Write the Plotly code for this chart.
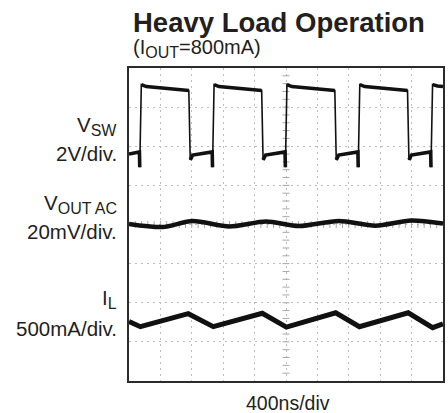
import numpy as np
import plotly.graph_objects as go

# ---------------- data ----------------
# time axis: 400 ns/div, 10 divisions
t_div_ns = 400
n_xdiv = 10
n_ydiv = 8

# V_SW (volts, 2 V/div, ground reference at 5.8 div)
vsw_t = [0, 133, 137, 157, 220, 762, 780, 812,
         1060, 1064, 1084, 1147, 1690, 1708, 1740,
         1988, 1992, 2012, 2075, 2622, 2640, 2672,
         2916, 2920, 2940, 3003, 3548, 3566, 3598,
         3843, 3847, 3867, 3930, 4000]
vsw_v = [0.0, 0.11, -0.67, 3.55, 3.45, 3.25, -0.30, -0.05,
         0.11, -0.67, 3.55, 3.45, 3.25, -0.30, -0.05,
         0.11, -0.67, 3.55, 3.45, 3.25, -0.30, -0.05,
         0.11, -0.67, 3.55, 3.45, 3.25, -0.30, -0.05,
         0.11, -0.67, 3.55, 3.48, 3.45]
vsw_scale = 2.0      # V/div
vsw_offset = 5.8     # div

# V_OUT AC (mV, 20 mV/div, centred at 4 div)
vout_t = [0, 430, 810, 1278, 1747, 2165, 2671, 3139, 3595, 4000]
vout_v = [0.3, -1.3, 1.8, -1.0, 1.5, -0.8, 1.8, -0.6, 2.0, 0.5]
vout_scale = 20.0
vout_offset = 4.0

# I_L (mA, 500 mA/div, zero at -0.06 div)
il_t = [0, 145, 755, 1074, 1698, 2005, 2633, 2935, 3557, 3868, 4000]
il_v = [790, 724, 890, 724, 896, 718, 902, 724, 902, 712, 760]
il_scale = 500.0
il_offset = -0.06

# ---------------- figure ----------------
W, H = 448, 413
# plot frame in window pixels: x 129..445, y 67.5..381.5
L, R, T, B = 129, 3, 68, 32
pw, ph = W - L - R, H - T - B

def px(x):
    return (x - L) / pw

def py(y):
    return (H - B - y) / ph

def to_div(vals, scale, offset):
    return [offset + v / scale for v in vals]

fig = go.Figure()

# centre cross minor tick marks (scope graticule)
cx = n_xdiv * t_div_ns / 2
fig.add_trace(go.Scatter(
    x=[cx] * (n_ydiv * 5 - 1), y=list(np.arange(1, n_ydiv * 5) * 0.2),
    mode="markers", marker=dict(symbol="line-ew", size=5, line=dict(width=1, color="#a8a8a8")),
    hoverinfo="skip", showlegend=False))
fig.add_trace(go.Scatter(
    x=list(np.arange(1, n_xdiv * 5) * t_div_ns / 5), y=[n_ydiv / 2] * (n_xdiv * 5 - 1),
    mode="markers", marker=dict(symbol="line-ns", size=5, line=dict(width=1, color="#a8a8a8")),
    hoverinfo="skip", showlegend=False))

trace_col = "#111111"

# V_SW: thin edges + thicker noisy plateaus
vsw_y = to_div(vsw_v, vsw_scale, vsw_offset)
fig.add_trace(go.Scatter(x=vsw_t, y=vsw_y, mode="lines",
                         line=dict(color=trace_col, width=1.6), showlegend=False, hoverinfo="skip"))
pl_x, pl_y = [], []
for i in range(len(vsw_t)):
    if i > 0 and abs(vsw_v[i] - vsw_v[i - 1]) > 1.0:
        pl_x.append(None)
        pl_y.append(None)
    pl_x.append(vsw_t[i])
    pl_y.append(vsw_y[i])
fig.add_trace(go.Scatter(x=pl_x, y=pl_y, mode="lines", connectgaps=False,
                         line=dict(color=trace_col, width=3.6), showlegend=False, hoverinfo="skip"))

# V_OUT AC
fig.add_trace(go.Scatter(x=vout_t, y=to_div(vout_v, vout_scale, vout_offset), mode="lines",
                         line=dict(color=trace_col, width=4.5, shape="spline", smoothing=0.8),
                         showlegend=False, hoverinfo="skip"))

# I_L
fig.add_trace(go.Scatter(x=il_t, y=to_div(il_v, il_scale, il_offset), mode="lines",
                         line=dict(color=trace_col, width=5), showlegend=False, hoverinfo="skip"))

font_family = "Liberation Sans, Arial, Helvetica, sans-serif"
txt_col = "#231f20"

def sub(s, size):
    return "<sub><span style='font-size:%dpx'>%s</span></sub>" % (size, s)

ann = []
ann.append(dict(text="<b>Heavy Load Operation</b>", x=px(131), y=py(22.5), xanchor="left", yanchor="middle",
                font=dict(size=27.5, color=txt_col)))
ann.append(dict(text="(I" + sub("OUT", 16) + "=800mA)", x=px(131), y=py(48), xanchor="left",
                yanchor="middle", font=dict(size=20, color=txt_col)))
left_labels = [("V" + sub("SW", 16), 126), ("2V/div.", 153),
               ("V" + sub("OUT AC", 16), 204), ("20mV/div.", 231),
               ("I" + sub("L", 16), 299), ("500mA/div.", 328)]
for txt, yy in left_labels:
    ann.append(dict(text=txt, x=px(118.5), y=py(yy), xanchor="right", yanchor="middle",
                    font=dict(size=20.5, color=txt_col)))
ann.append(dict(text="400ns/div", x=px(289), y=py(403), xanchor="center", yanchor="middle",
                font=dict(size=19.5, color=txt_col)))
for a in ann:
    a.update(xref="paper", yref="paper", showarrow=False)

fig.update_layout(
    width=W, height=H, margin=dict(l=L, r=R, t=T, b=B),
    paper_bgcolor="white", plot_bgcolor="white",
    font=dict(family=font_family),
    annotations=ann,
    xaxis=dict(range=[0, n_xdiv * t_div_ns], dtick=t_div_ns, tick0=0, showticklabels=False, ticks="",
               showgrid=True, gridcolor="#bdbdbd", gridwidth=1, griddash="2px,4px",
               zeroline=False, showline=True, mirror=True, linecolor="#2b2b2b", linewidth=2, fixedrange=True),
    yaxis=dict(range=[0, n_ydiv], dtick=1, tick0=0, showticklabels=False, ticks="",
               showgrid=True, gridcolor="#bdbdbd", gridwidth=1, griddash="2px,4px",
               zeroline=False, showline=True, mirror=True, linecolor="#2b2b2b", linewidth=2, fixedrange=True),
)

fig.write_html("out.html",
               config={"displayModeBar": False, "staticPlot": True},
               post_script="document.body.style.margin='0';"
                           "document.documentElement.style.overflow='hidden';")
